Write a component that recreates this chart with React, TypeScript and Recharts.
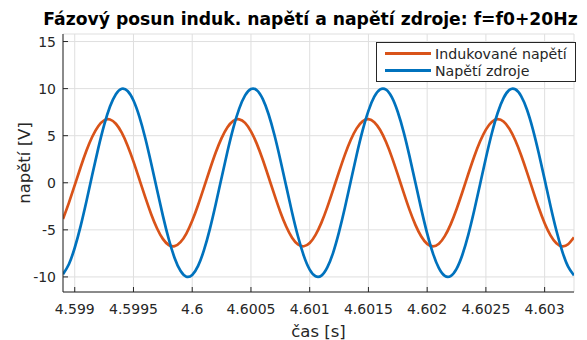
import {
  LineChart, Line, XAxis, YAxis, CartesianGrid, Label,
} from 'recharts'

// time axis [s], sampled every 50 µs
const TIME = [
  4.5989, 4.59895, 4.599, 4.59905, 4.5991, 4.59915, 4.5992, 4.59925, 4.5993, 4.59935,
  4.5994, 4.59945, 4.5995, 4.59955, 4.5996, 4.59965, 4.5997, 4.59975, 4.5998, 4.59985,
  4.5999, 4.59995, 4.6, 4.60005, 4.6001, 4.60015, 4.6002, 4.60025, 4.6003, 4.60035,
  4.6004, 4.60045, 4.6005, 4.60055, 4.6006, 4.60065, 4.6007, 4.60075, 4.6008, 4.60085,
  4.6009, 4.60095, 4.601, 4.60105, 4.6011, 4.60115, 4.6012, 4.60125, 4.6013, 4.60135,
  4.6014, 4.60145, 4.6015, 4.60155, 4.6016, 4.60165, 4.6017, 4.60175, 4.6018, 4.60185,
  4.6019, 4.60195, 4.602, 4.60205, 4.6021, 4.60215, 4.6022, 4.60225, 4.6023, 4.60235,
  4.6024, 4.60245, 4.6025, 4.60255, 4.6026, 4.60265, 4.6027, 4.60275, 4.6028, 4.60285,
  4.6029, 4.60295, 4.603, 4.60305, 4.6031, 4.60315, 4.6032, 4.60325,
]

// induced voltage [V]
const INDUCED = [
  -3.84, -2.13, -0.25, 1.65, 3.42, 4.91, 6.01, 6.63, 6.72, 6.27,
  5.32, 3.94, 2.25, 0.37, -1.53, -3.31, -4.83, -5.96, -6.61, -6.73,
  -6.31, -5.39, -4.04, -2.36, -0.49, 1.41, 3.21, 4.74, 5.9, 6.58,
  6.74, 6.36, 5.46, 4.13, 2.47, 0.61, -1.29, -3.1, -4.65, -5.84,
  -6.55, -6.74, -6.4, -5.53, -4.23, -2.59, -0.73, 1.17, 2.99, 4.57,
  5.78, 6.52, 6.75, 6.43, 5.6, 4.32, 2.7, 0.86, -1.05, -2.88,
  -4.47, -5.71, -6.49, -6.75, -6.47, -5.67, -4.42, -2.81, -0.98, 0.93,
  2.77, 4.38, 5.65, 6.46, 6.75, 6.5, 5.73, 4.51, 2.92, 1.1,
  -0.81, -2.66, -4.29, -5.58, -6.42, -6.75, -6.53, -5.8,
]

// source voltage [V]
const SOURCE = [
  -9.71, -8.65, -6.9, -4.6, -1.93, 0.9, 3.65, 6.12, 8.09, 9.41,
  9.98, 9.75, 8.74, 7.03, 4.76, 2.1, -0.72, -3.49, -5.97, -7.98,
  -9.35, -9.97, -9.79, -8.83, -7.16, -4.92, -2.28, 0.54, 3.32, 5.83,
  7.87, 9.28, 9.95, 9.83, 8.91, 7.28, 5.07, 2.45, -0.36, -3.15,
  -5.68, -7.76, -9.22, -9.93, -9.86, -8.99, -7.41, -5.22, -2.63, 0.18,
  2.98, 5.53, 7.64, 9.14, 9.91, 9.89, 9.07, 7.52, 5.38, 2.8,
  0.0, -2.8, -5.38, -7.53, -9.07, -9.89, -9.91, -9.14, -7.64, -5.53,
  -2.97, -0.18, 2.63, 5.23, 7.41, 8.99, 9.86, 9.93, 9.21, 7.76,
  5.68, 3.14, 0.36, -2.46, -5.07, -7.28, -8.91, -9.83,
]

const X_TICKS = [4.599, 4.5995, 4.6, 4.6005, 4.601, 4.6015, 4.602, 4.6025, 4.603]
const Y_TICKS = [-10, -5, 0, 5, 10, 15]

const FONT = '"DejaVu Sans", sans-serif'
const AXIS = '#262626'
const ORANGE = '#D95319'
const BLUE = '#0072BD'

const data = TIME.map((t, i) => ({ t, ind: INDUCED[i], src: SOURCE[i] }))

const fmtX = (v: number) => String(Number(v.toFixed(4)))

function LegendBox() {
  const rows = [
    { label: 'Indukované napětí', color: ORANGE },
    { label: 'Napětí zdroje', color: BLUE },
  ]
  return (
    <div style={{
      position: 'absolute', left: 376, top: 42, width: 190,
      border: '1px solid #262626', background: '#fff', padding: '2px 0 2px 8px',
      fontFamily: FONT, fontSize: 14.2, color: AXIS, whiteSpace: 'nowrap',
    }}>
      {rows.map(r => (
        <div key={r.label} style={{ display: 'flex', alignItems: 'center', height: 17 }}>
          <span style={{ display: 'inline-block', width: 46, height: 3, background: r.color, marginRight: 4 }} />
          <span>{r.label}</span>
        </div>
      ))}
    </div>
  )
}

export default function App() {
  return (
    <div style={{ position: 'absolute', left: 0, top: 0, width: 587, height: 340, background: '#fff' }}>
      <div style={{
        position: 'absolute', left: 55, width: 511, top: 9, display: 'flex', justifyContent: 'center',
        fontFamily: FONT, fontWeight: 'bold', fontSize: 17.2, whiteSpace: 'nowrap', color: '#000',
      }}>
        Fázový posun induk. napětí a napětí zdroje: f=f0+20Hz
      </div>
      <LineChart width={587} height={340} data={data}
        margin={{ top: 34, right: 13, bottom: 0, left: 0 }}>
        <CartesianGrid stroke="#dfdfdf" strokeWidth={1} />
        <XAxis
          dataKey="t" type="number" domain={[4.5989, 4.60325]} allowDataOverflow
          ticks={X_TICKS} tickFormatter={fmtX} interval={0}
          height={48} tickSize={-5} tickMargin={17}
          stroke={AXIS} tick={{ fill: AXIS, fontSize: 14, fontFamily: FONT }}
        >
          <Label value="čas [s]" position="insideBottom" offset={3}
            style={{ fill: AXIS, fontSize: 16.5, fontFamily: FONT }} />
        </XAxis>
        <XAxis xAxisId="top" orientation="top" dataKey="t" type="number"
          domain={[4.5989, 4.60325]} allowDataOverflow ticks={X_TICKS}
          height={0} tickSize={-5} tick={false} stroke={AXIS} />
        <YAxis
          type="number" domain={[-11.6, 15.8]} allowDataOverflow ticks={Y_TICKS} interval={0}
          width={63} tickSize={-5} tickMargin={12}
          stroke={AXIS} tick={{ fill: AXIS, fontSize: 14, fontFamily: FONT }}
        >
          <Label value="napětí [V]" angle={-90} position="insideLeft" offset={24}
            style={{ fill: AXIS, fontSize: 16.5, fontFamily: FONT, textAnchor: 'middle' }} />
        </YAxis>
        <YAxis yAxisId="right" orientation="right" type="number" domain={[-11.6, 15.8]}
          allowDataOverflow ticks={Y_TICKS} width={0} tickSize={-5} tick={false} stroke={AXIS} />
        <Line type="natural" dataKey="ind" name="Indukované napětí" stroke={ORANGE}
          strokeWidth={2.7} dot={false} isAnimationActive={false} />
        <Line type="natural" dataKey="src" name="Napětí zdroje" stroke={BLUE}
          strokeWidth={2.7} dot={false} isAnimationActive={false} />
      </LineChart>
      <LegendBox />
    </div>
  )
}
